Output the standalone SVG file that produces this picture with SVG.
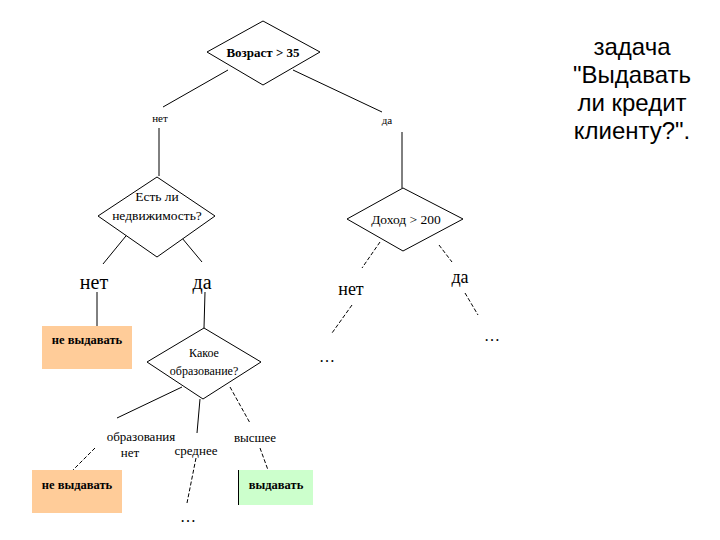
<svg xmlns="http://www.w3.org/2000/svg" width="720" height="540" viewBox="0 0 720 540">
<style>
.d{fill:#fff;stroke:#000;stroke-width:1}
.ln{stroke:#000;stroke-width:1;fill:none}
.ds{stroke:#000;stroke-width:1;fill:none;stroke-dasharray:4 2}
.t{font-family:"Liberation Serif",serif;fill:#000;text-anchor:middle}
.s{font-family:"Liberation Sans",sans-serif;fill:#000;text-anchor:middle;font-size:24px}
</style>
<rect width="720" height="540" fill="#fff"/>
<g id="connectors">
<line class="ln" x1="228" y1="70" x2="163" y2="107"/>
<line class="ln" x1="293" y1="70" x2="382" y2="112"/>
<line class="ln" x1="159" y1="128" x2="159" y2="176"/>
<line class="ln" x1="402" y1="132" x2="402" y2="188" stroke-width="2.5"/>
<line class="ln" x1="130" y1="231" x2="103" y2="264"/>
<line class="ln" x1="177" y1="232" x2="202" y2="262"/>
<line class="ds" x1="380" y1="242" x2="362" y2="268"/>
<line class="ds" x1="439" y1="245" x2="452" y2="262"/>
<line class="ds" x1="352" y1="305" x2="332" y2="333"/>
<line class="ds" x1="465" y1="293" x2="478" y2="315"/>
<line class="ln" x1="97" y1="292" x2="97" y2="326"/>
<line class="ln" x1="205" y1="292" x2="204" y2="328"/>
<line class="ln" x1="182" y1="387" x2="117" y2="418"/>
<line class="ln" x1="200" y1="399" x2="197" y2="433"/>
<line class="ds" x1="230" y1="387" x2="250" y2="423"/>
<line class="ds" x1="95" y1="448" x2="73" y2="470"/>
<line class="ds" x1="196" y1="458" x2="187" y2="503"/>
<line class="ds" x1="260" y1="448" x2="268" y2="470"/>
</g>
<g id="n-age">
<polygon class="d" points="263,21 320,52 263,85 207,52"/>
<text class="t" x="263" y="57" font-size="13" font-weight="bold">Возраст &gt; 35</text>
</g>
<g id="l-age-no"><text class="t" x="160" y="122" font-size="11">нет</text></g>
<g id="l-age-yes"><text class="t" x="387" y="124" font-size="11">да</text></g>
<g id="n-property">
<polygon class="d" points="157,177 215,216 157,257 98,216"/>
<text class="t" x="157" y="201" font-size="13.5">Есть ли</text>
<text class="t" x="157" y="220" font-size="13.5">недвижимость?</text>
</g>
<g id="l-prop-no"><text class="t" x="94" y="289" font-size="20">нет</text></g>
<g id="l-prop-yes"><text class="t" x="202" y="289" font-size="20">да</text></g>
<g id="n-income">
<polygon class="d" points="403,188 463,219 403,251 347,219"/>
<text class="t" x="406" y="224" font-size="13.5">Доход &gt; 200</text>
</g>
<g id="l-inc-no"><text class="t" x="351" y="295" font-size="18">нет</text></g>
<g id="l-inc-yes"><text class="t" x="460" y="283" font-size="18">да</text></g>
<g id="n-inc-no-more"><text class="t" x="327" y="362" font-size="16">…</text></g>
<g id="n-inc-yes-more"><text class="t" x="492" y="341" font-size="16">…</text></g>
<g id="n-deny1">
<rect x="42" y="326" width="90" height="43" fill="#FFCC99"/>
<text class="t" x="87" y="344" font-size="12.5" font-weight="bold">не выдавать</text>
</g>
<g id="n-education">
<polygon class="d" points="204,328 261,362 203,399 147,362"/>
<text class="t" x="204" y="357" font-size="12">Какое</text>
<text class="t" x="204" y="375" font-size="12">образование?</text>
</g>
<g id="l-edu-none">
<text class="t" x="141" y="441" font-size="13">образования</text>
<text class="t" x="130" y="457" font-size="13">нет</text>
</g>
<g id="l-edu-mid"><text class="t" x="196" y="455" font-size="13">среднее</text></g>
<g id="l-edu-high"><text class="t" x="255" y="442" font-size="13">высшее</text></g>
<g id="n-deny2">
<rect x="32" y="470" width="90" height="43" fill="#FFCC99"/>
<text class="t" x="77" y="489" font-size="12.5" font-weight="bold">не выдавать</text>
</g>
<g id="n-mid-more"><text class="t" x="188" y="522" font-size="16">…</text></g>
<g id="n-grant">
<rect x="238" y="470" width="75" height="35" fill="#CCFFCC"/>
<line class="ln" x1="238.5" y1="470" x2="238.5" y2="505"/>
<text class="t" x="276" y="489" font-size="12.5" font-weight="bold">выдавать</text>
</g>
<g id="title">
<text class="s" x="632" y="55">задача</text>
<text class="s" x="632" y="83">"Выдавать</text>
<text class="s" x="632" y="111">ли кредит</text>
<text class="s" x="632" y="139">клиенту?".</text>
</g>
</svg>
